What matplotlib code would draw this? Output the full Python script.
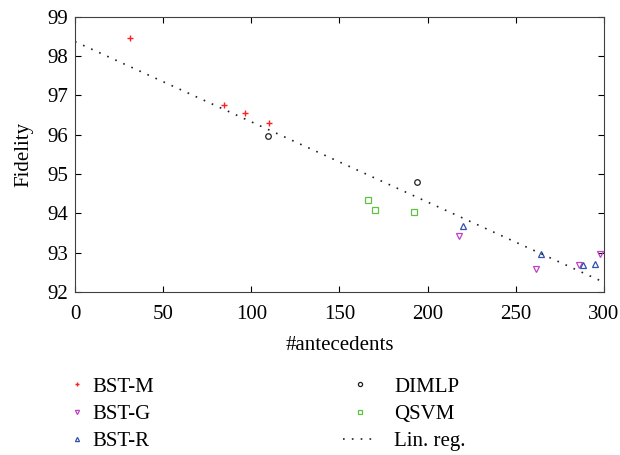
import matplotlib
matplotlib.use("Agg")
import matplotlib.pyplot as plt

plt.rcParams['font.family'] = ['Liberation Serif', 'DejaVu Serif']

# points
bstm_x = [31, 84.5, 96.5, 110]
bstm_y = [98.45, 96.75, 96.55, 96.3]
bstg_x = [218, 261.5, 286, 298]
bstg_y = [93.43, 92.58, 92.68, 92.97]
bstr_x = [220, 264.5, 288, 295]
bstr_y = [93.67, 92.97, 92.68, 92.72]
dimlp_x = [109.5, 194]
dimlp_y = [95.96, 94.79]
qsvm_x = [166, 170, 192.5]
qsvm_y = [94.33, 94.1, 94.03]
reg_x = [0, 300]
reg_y = [98.37, 92.25]

fig = plt.figure(figsize=(6.2, 4.55), dpi=100)
ax = fig.add_axes([0.121, 0.358, 0.853, 0.605])

ms = 4
h1 = ax.plot(bstm_x, bstm_y, '+', color='#ff2020', ms=ms, mew=1.0, label='BST-M')[0]
h2 = ax.plot(bstg_x, bstg_y, 'v', mfc='none', mec='#c040c0', ms=ms, mew=0.9, label='BST-G')[0]
h3 = ax.plot(bstr_x, bstr_y, '^', mfc='none', mec='#3050b0', ms=ms, mew=0.9, label='BST-R')[0]
h4 = ax.plot(dimlp_x, dimlp_y, 'o', mfc='none', mec='#202020', ms=ms, mew=0.9, label='DIMLP')[0]
h5 = ax.plot(qsvm_x, qsvm_y, 's', mfc='none', mec='#60c040', ms=ms, mew=0.9, label='QSVM')[0]
h6 = ax.plot(reg_x, reg_y, color='#202020', lw=1.2, linestyle=(0, (1, 4.3)), label='Lin. reg.')[0]

ax.set_xlim(0, 300)
ax.set_ylim(92, 99)
ax.set_xticks([0, 50, 100, 150, 200, 250, 300])
ax.set_yticks(range(92, 100))
ax.tick_params(direction='in', top=True, right=True, labelsize=15, length=4)
ax.tick_params(axis='x', pad=9)
ax.tick_params(axis='y', pad=5)
for s in ax.spines.values():
    s.set_color('#404040')

ax.set_xlabel('#antecedents', fontsize=15, labelpad=9)
ax.set_ylabel('Fidelity', fontsize=15, labelpad=10)

# legend in two separate columns below the axes
kw = dict(loc='upper left', frameon=False, fontsize=15, labelspacing=0.36,
          borderpad=0, borderaxespad=0, markerscale=0.75)
fig.legend([h1, h2, h3], ['BST-M', 'BST-G', 'BST-R'],
           bbox_to_anchor=(0.116, 0.171), handlelength=0.5, handletextpad=0.48, **kw)
fig.legend([h4, h5, h6], ['DIMLP', 'QSVM', 'Lin. reg.'],
           bbox_to_anchor=(0.553, 0.171), handlelength=1.68, handletextpad=0.77, **kw)

plt.savefig('out.png', dpi=100)
